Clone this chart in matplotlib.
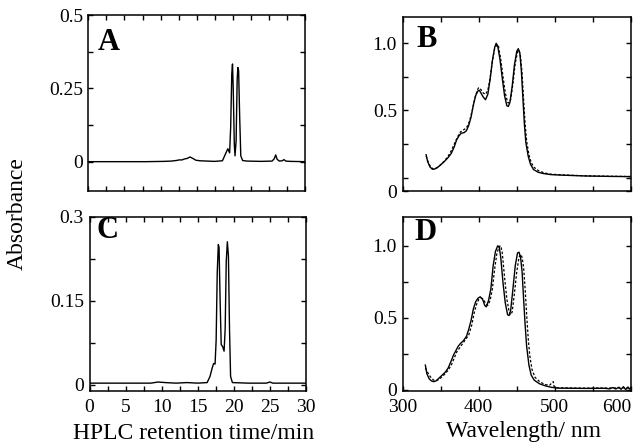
import numpy as np
import matplotlib.pyplot as plt
from matplotlib.ticker import FixedLocator, MultipleLocator

plt.rcParams['font.family'] = ['Liberation Serif', 'DejaVu Serif']

# HPLC chromatograms (time / min, absorbance)
hplc_a = [(0, 0), (8, 0), (10.5, 0.001), (11.5, 0.002), (12.2, 0.004), (12.6, 0.006),
          (13.0, 0.006), (13.3, 0.009), (13.7, 0.011), (14.1, 0.016), (14.5, 0.011),
          (14.9, 0.005), (15.5, 0.003), (16.5, 0.002), (17.5, 0.001), (18.6, 0.003),
          (19.0, 0.025), (19.35, 0.044), (19.6, 0.03), (19.75, 0.12), (19.9, 0.3),
          (20.0, 0.333), (20.1, 0.25), (20.25, 0.06), (20.35, 0.02), (20.5, 0.07),
          (20.65, 0.28), (20.75, 0.321), (20.85, 0.31), (21.0, 0.15), (21.15, 0.02),
          (21.4, 0.004), (22, 0.002), (24, 0.001), (25.5, 0.002), (25.8, 0.01),
          (26.0, 0.023), (26.2, 0.008), (26.5, 0.002), (26.9, 0.003), (27.15, 0.007),
          (27.4, 0.002), (28, 0.001), (30, 0)]

hplc_c = [(0, 0.003), (5, 0.003), (8.5, 0.003), (9.5, 0.005), (10.5, 0.004), (12, 0.003),
          (13.5, 0.004), (15, 0.003), (16.3, 0.004), (16.7, 0.015), (17.0, 0.03),
          (17.2, 0.038), (17.4, 0.037), (17.55, 0.08), (17.7, 0.2), (17.85, 0.25),
          (17.95, 0.245), (18.1, 0.15), (18.25, 0.072), (18.45, 0.068), (18.65, 0.06),
          (18.8, 0.1), (18.95, 0.22), (19.1, 0.255), (19.25, 0.23), (19.4, 0.1),
          (19.55, 0.015), (19.8, 0.004), (22, 0.003), (24.5, 0.003), (25, 0.005),
          (25.4, 0.003), (30, 0.003)]

# absorption spectra (wavelength / nm, normalised absorbance)
spec_b_solid = [(331, 0.17), (333, 0.12), (336, 0.08), (339, 0.063), (342, 0.063), (346, 0.075),
                (350, 0.095), (355, 0.12), (360, 0.15), (364, 0.18), (368, 0.23), (371, 0.28),
                (374, 0.31), (377, 0.33), (381, 0.335), (384, 0.35), (387, 0.39), (390, 0.45),
                (393, 0.54), (396, 0.61), (399, 0.645), (401, 0.65), (403, 0.63), (406, 0.6),
                (409, 0.58), (412, 0.62), (415, 0.73), (418, 0.87), (421, 0.97), (423, 1.0),
                (425, 0.98), (428, 0.88), (431, 0.74), (434, 0.61), (437, 0.535), (439, 0.53),
                (441, 0.56), (444, 0.68), (447, 0.84), (450, 0.94), (452, 0.96), (454, 0.93),
                (456, 0.8), (458, 0.6), (460, 0.4), (462, 0.26), (465, 0.16), (468, 0.1),
                (472, 0.06), (478, 0.04), (485, 0.03), (495, 0.022), (510, 0.018),
                (540, 0.012), (570, 0.009), (600, 0.007)]

spec_b_dash = [(331, 0.16), (334, 0.11), (337, 0.08), (340, 0.065), (344, 0.07), (348, 0.085),
               (352, 0.105), (356, 0.13), (360, 0.16), (364, 0.2), (368, 0.25), (372, 0.3),
               (376, 0.34), (380, 0.355), (384, 0.37), (388, 0.42), (392, 0.51), (395, 0.59),
               (398, 0.65), (400, 0.67), (403, 0.655), (406, 0.63), (409, 0.62), (412, 0.65),
               (415, 0.74), (418, 0.87), (421, 0.96), (424, 0.99), (426, 0.98), (429, 0.88),
               (432, 0.75), (435, 0.63), (438, 0.56), (440, 0.555), (442, 0.58), (445, 0.7),
               (448, 0.85), (451, 0.935), (453, 0.95), (455, 0.9), (457, 0.78), (459, 0.58),
               (461, 0.4), (463, 0.27), (466, 0.17), (469, 0.11), (473, 0.075), (479, 0.05),
               (486, 0.035), (495, 0.025), (510, 0.02), (540, 0.013), (570, 0.01), (600, 0.008)]

spec_d_solid = [(330, 0.17), (332, 0.11), (335, 0.075), (338, 0.06), (341, 0.055), (344, 0.06),
                (348, 0.08), (352, 0.1), (356, 0.12), (360, 0.15), (364, 0.2), (367, 0.24),
                (370, 0.27), (373, 0.3), (376, 0.32), (380, 0.34), (384, 0.37), (387, 0.42),
                (390, 0.48), (393, 0.56), (396, 0.61), (399, 0.635), (402, 0.645), (405, 0.63),
                (408, 0.585), (410, 0.575), (413, 0.62), (416, 0.7), (419, 0.86), (422, 0.96),
                (425, 1.0), (427, 0.99), (429, 0.92), (432, 0.74), (435, 0.6), (438, 0.52),
                (440, 0.515), (442, 0.55), (445, 0.7), (448, 0.86), (451, 0.95), (453, 0.955),
                (455, 0.92), (457, 0.82), (459, 0.63), (461, 0.45), (463, 0.3), (466, 0.17),
                (469, 0.1), (473, 0.065), (480, 0.04), (488, 0.025), (496, 0.015), (505, 0.01),
                (540, 0.008), (565, 0.009), (572, 0.005), (576, 0.014), (580, 0.004),
                (584, 0.016), (587, 0.002), (590, 0.02), (593, 0.0), (596, 0.018),
                (598, 0.003), (600, 0.015)]

spec_d_dash = [(330, 0.15), (332, 0.13), (335, 0.1), (338, 0.08), (341, 0.065), (344, 0.062),
               (348, 0.07), (352, 0.09), (356, 0.11), (360, 0.135), (364, 0.17), (368, 0.22),
               (371, 0.26), (375, 0.29), (379, 0.32), (383, 0.35), (387, 0.38), (391, 0.45),
               (394, 0.53), (397, 0.59), (400, 0.625), (403, 0.635), (406, 0.63), (409, 0.6),
               (412, 0.585), (415, 0.62), (418, 0.7), (421, 0.84), (424, 0.95), (427, 0.995),
               (429, 1.0), (431, 0.95), (434, 0.78), (437, 0.63), (440, 0.54), (442, 0.52),
               (444, 0.54), (447, 0.67), (450, 0.82), (453, 0.92), (455, 0.94), (457, 0.92),
               (459, 0.85), (461, 0.7), (463, 0.52), (465, 0.36), (467, 0.24), (470, 0.14),
               (474, 0.085), (480, 0.055), (487, 0.035), (493, 0.03), (496, 0.045),
               (498, 0.055), (499, 0.02), (503, 0.012), (540, 0.01), (600, 0.012)]

W, H = 641, 447
fig = plt.figure(figsize=(W / 100, H / 100), dpi=100)


def box(l, t, r, b):
    # pixel box -> figure fraction
    return [l / W, 1 - b / H, (r - l) / W, (b - t) / H]


ax_a = fig.add_axes(box(88.5, 15, 304.5, 191))
ax_b = fig.add_axes(box(402.5, 16.5, 631, 191))
ax_c = fig.add_axes(box(89.5, 216.5, 306, 391))
ax_d = fig.add_axes(box(402.5, 217, 631, 391))

for ax in (ax_a, ax_b, ax_c, ax_d):
    ax.tick_params(which='both', direction='in', top=True, right=True,
                   length=3.5, width=1, labelsize=14, pad=4)
    ax.tick_params(axis='x', pad=6)
    for sp in ax.spines.values():
        sp.set_linewidth(1.1)


def plot_pairs(ax, pairs, **kw):
    arr = np.array(pairs).T
    ax.plot(arr[0], arr[1], color='black', **kw)


# A
plot_pairs(ax_a, hplc_a, lw=1.0)
ax_a.set_xlim(0, 30)
ax_a.set_ylim(-0.1, 0.5)
ax_a.xaxis.set_major_locator(MultipleLocator(2.5))
ax_a.tick_params(axis='x', labelbottom=False)
ax_a.set_yticks([0, 0.25, 0.5], ['0', '0.25', '0.5'])
ax_a.yaxis.set_minor_locator(FixedLocator([0.125, 0.375]))

# C
plot_pairs(ax_c, hplc_c, lw=1.0)
ax_c.set_xlim(0, 30)
ax_c.set_ylim(-0.011, 0.3)
ax_c.set_xticks([0, 5, 10, 15, 20, 25, 30])
ax_c.xaxis.set_minor_locator(MultipleLocator(2.5))
ax_c.set_yticks([0, 0.15, 0.3], ['0', '0.15', '0.3'])
ax_c.yaxis.set_minor_locator(FixedLocator([0.075, 0.225]))

# B
plot_pairs(ax_b, spec_b_solid, lw=1.0)
plot_pairs(ax_b, spec_b_dash, lw=0.9, ls=(0, (2, 1.5)))
ax_b.set_xlim(300, 600)
ax_b.set_ylim(-0.1, 1.2)
ax_b.xaxis.set_major_locator(MultipleLocator(50))
ax_b.tick_params(axis='x', labelbottom=False)
ax_b.set_yticks([-0.1, 0.5, 1.0], ['0', '0.5', '1.0'])
ax_b.yaxis.set_minor_locator(FixedLocator([0, 0.25, 0.75]))

# D
plot_pairs(ax_d, spec_d_solid, lw=1.0)
plot_pairs(ax_d, spec_d_dash, lw=0.9, ls=(0, (2, 1.5)))
ax_d.set_xlim(300, 600)
ax_d.set_ylim(-0.01, 1.2)
ax_d.set_xticks([300, 400, 500, 600])
ax_d.xaxis.set_minor_locator(MultipleLocator(50))
ax_d.get_xticklabels()[-1].set_horizontalalignment('right')
ax_d.set_yticks([0, 0.5, 1.0], ['0', '0.5', '1.0'])
ax_d.yaxis.set_minor_locator(FixedLocator([0.25, 0.75]))

# panel letters
for ax, letter, x, y in [(ax_a, 'A', 0.044, 0.80), (ax_b, 'B', 0.059, 0.823),
                         (ax_c, 'C', 0.033, 0.875), (ax_d, 'D', 0.052, 0.868)]:
    ax.text(x, y, letter, transform=ax.transAxes, fontsize=22,
            fontweight='bold', va='baseline', ha='left')

fig.text(17 / W, 1 - 214 / H, 'Absorbance', rotation=90, fontsize=17,
         ha='center', va='center')
fig.text(193.5 / W, 1 - 439 / H, 'HPLC retention time/min', fontsize=17,
         ha='center', va='baseline')
fig.text(523.5 / W, 1 - 437 / H, 'Wavelength/ nm', fontsize=17,
         ha='center', va='baseline')

fig.savefig('out.png', dpi=100)
